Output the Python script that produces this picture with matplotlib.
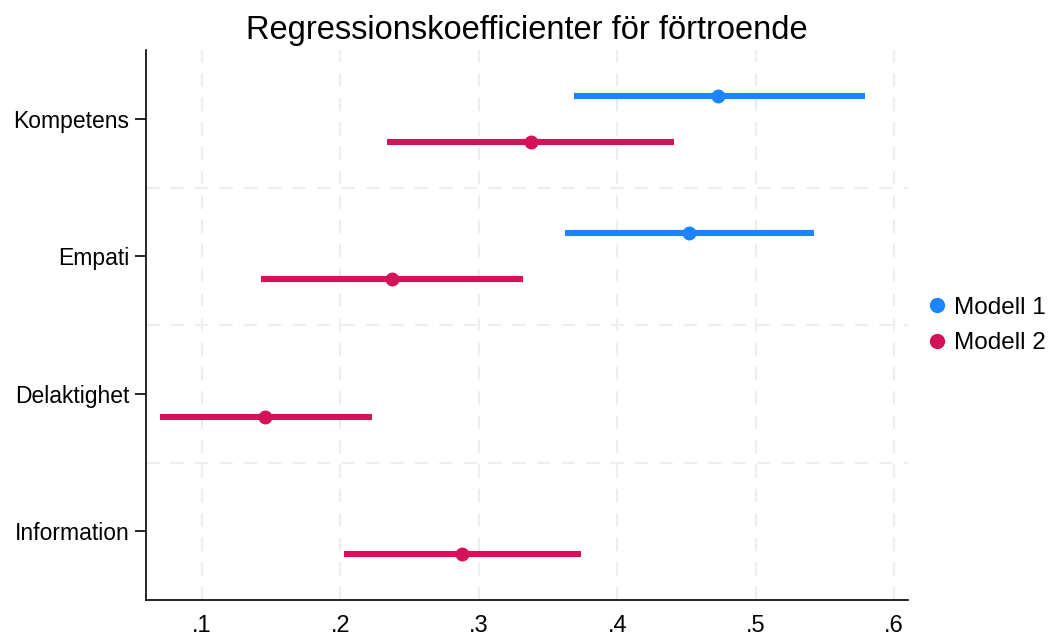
import matplotlib
matplotlib.use("Agg")
import matplotlib.pyplot as plt
from matplotlib.lines import Line2D

plt.rcParams['font.family'] = ['Liberation Sans', 'DejaVu Sans']

# categories, top to bottom
categories = ['Kompetens', 'Empati', 'Delaktighet', 'Information']

# Modell 1: estimate, lower, upper (None = not in model)
m1_est = [0.473, 0.452, None, None]
m1_lo = [0.369, 0.362, None, None]
m1_hi = [0.579, 0.542, None, None]

# Modell 2
m2_est = [0.338, 0.237, 0.1455, 0.2875]
m2_lo = [0.234, 0.143, 0.0697, 0.2025]
m2_hi = [0.441, 0.332, 0.2227, 0.3737]

x_ticks = [0.1, 0.2, 0.3, 0.4, 0.5, 0.6]
x_labels = ['.1', '.2', '.3', '.4', '.5', '.6']

BLUE = '#1A85FF'
RED = '#D41159'
OFFSET = 0.167

fig = plt.figure(figsize=(10.52, 6.37), dpi=100)
ax = fig.add_axes([0.1388, 0.058, 0.7243, 0.8635])

n = len(categories)
ypos = [n - 1 - i for i in range(n)]

series = [
    (m1_est, m1_lo, m1_hi, BLUE, OFFSET),
    (m2_est, m2_lo, m2_hi, RED, -OFFSET),
]
for est, lo, hi, color, off in series:
    for y, e, l, h in zip(ypos, est, lo, hi):
        if e is None:
            continue
        ax.plot([l, h], [y + off, y + off], color=color, lw=4.4,
                solid_capstyle='butt', zorder=3)
        ax.plot(e, y + off, 'o', color=color, markersize=9, zorder=4)

ax.set_xlim(0.0596, 0.610)
ax.set_ylim(-0.5, 3.5)

ax.set_yticks(ypos)
ax.set_yticklabels(categories, fontsize=16.5)
ax.set_xticks(x_ticks)
ax.set_xticklabels(x_labels, fontsize=17)

ax.tick_params(axis='y', length=8, width=1.2, pad=4)
ax.tick_params(axis='x', length=0, pad=11)

grid_kw = dict(color='#EEEEEE', lw=1.6, dashes=(6, 5), zorder=1)
for x in x_ticks:
    ax.axvline(x, **grid_kw)
for y in [0.5, 1.5, 2.5]:
    ax.axhline(y, **grid_kw)

for side in ['top', 'right']:
    ax.spines[side].set_visible(False)
for side in ['left', 'bottom']:
    ax.spines[side].set_linewidth(1.2)

ax.set_title('Regressionskoefficienter för förtroende', fontsize=23.5, pad=8)

handles = [
    Line2D([], [], marker='o', color=BLUE, lw=0, markersize=10, label='Modell 1'),
    Line2D([], [], marker='o', color=RED, lw=0, markersize=10, label='Modell 2'),
]
fig.legend(handles=handles, loc='center left', bbox_to_anchor=(0.858, 0.489),
           frameon=False, fontsize=17.5, handletextpad=0.2, labelspacing=0.55,
           handlelength=1.0)

fig.savefig('out.png', dpi=100)
